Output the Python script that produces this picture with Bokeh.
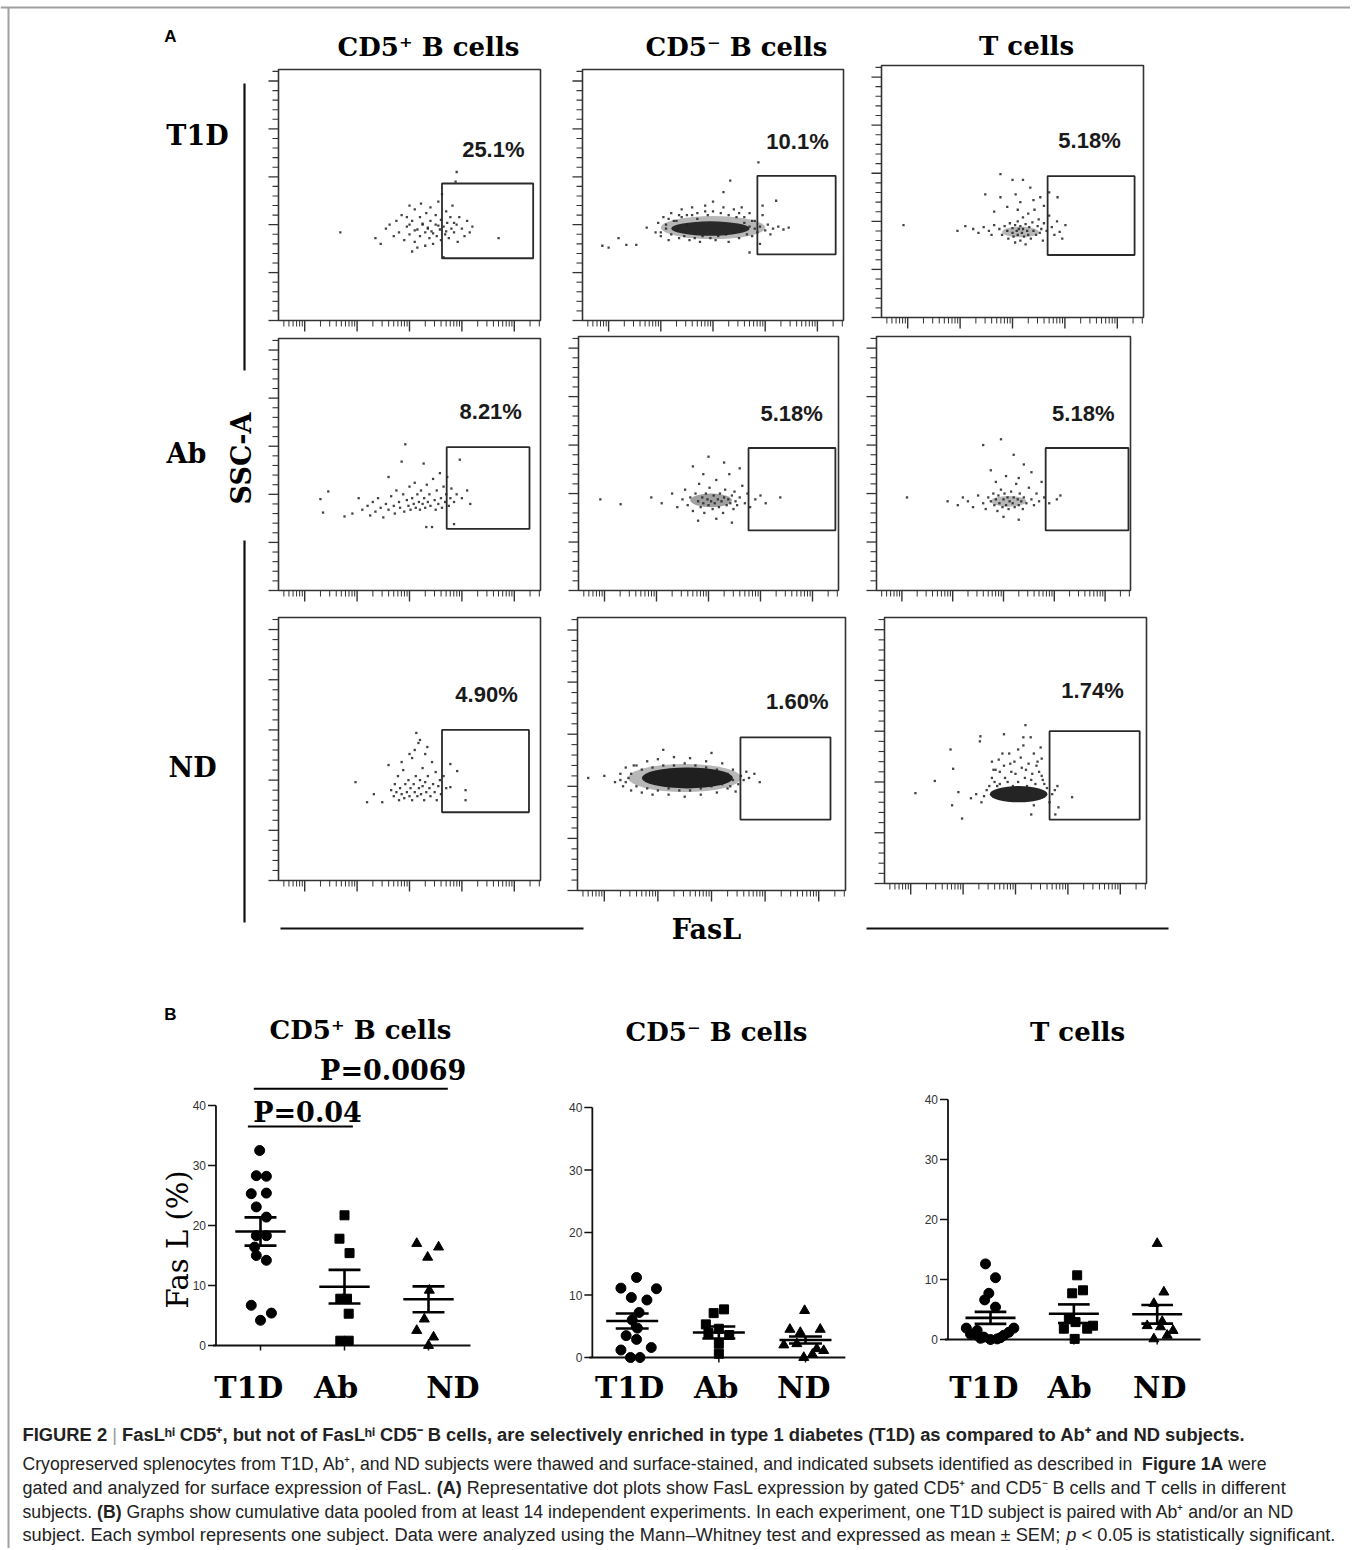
import math
from bokeh.plotting import figure
from bokeh.models import Range1d
from bokeh.embed import file_html
from bokeh.resources import INLINE
from bokeh.core.properties import value

# ======================= DATA =======================
ROW_LABELS = ["T1D", "Ab", "ND"]
COL_TITLES = ["CD5\u207a B cells", "CD5\u207b B cells", "T cells"]
GATE_PCT = [["25.1%", "10.1%", "5.18%"],
            ["8.21%", "5.18%", "5.18%"],
            ["4.90%", "1.60%", "1.74%"]]
FLOW_X = (-0.5, 4.5)          # FasL, log decades
FLOW_Y = (0.0, 262.0)         # SSC-A (x1000)
FLOW_YTICKS = [0, 50, 100, 150, 200, 250]
FLOW_XDECADES = [0, 1, 2, 3, 4]

# gates: (x_lo, x_hi, y_lo, y_hi) in data units
GATES = [[(2.62, 4.36, 65, 143), (2.85, 4.35, 69, 151), (2.67, 4.33, 65, 147)],
         [(2.71, 4.29, 64, 149), (2.77, 4.44, 62, 147), (2.83, 4.46, 62, 147)],
         [(2.62, 4.28, 68, 150), (2.54, 4.22, 68, 147), (2.65, 4.37, 63, 150)]]
GATE_LABEL_POS = [[(3.60, 179), (3.62, 187), (3.47, 184)],
                  [(3.55, 186), (3.60, 183), (3.57, 183)],
                  [(3.47, 185), (3.60, 181), (3.47, 190)]]

# dense cores of the dot clouds: (x, y, width, height, opacity)
CORES = {
    (0, 0): [],
    (0, 1): [(2.0, 97, 2.0, 24, 0.3), (1.95, 96, 1.5, 15, 0.85)],
    (0, 2): [(2.15, 89, 0.7, 11, 0.3)],
    (1, 0): [],
    (1, 1): [(2.05, 93, 0.8, 14, 0.4)],
    (1, 2): [(2.1, 92, 0.7, 11, 0.3)],
    (2, 0): [],
    (2, 1): [(1.5, 108, 2.1, 27, 0.3), (1.55, 108, 1.7, 20, 0.92)],
    (2, 2): [(2.06, 88, 1.1, 16, 0.92)],
}

# individual events (FasL decade, SSC-A x1000)
EV_T1D_CD5P = [(0.68, 92), (1.35, 86), (1.45, 80), (1.55, 96), (1.62, 100), (1.7, 88), (1.75, 104), (1.8, 92),
               (1.85, 110), (1.9, 84), (1.95, 98), (2.0, 120), (2.0, 90), (2.05, 104), (2.1, 82), (2.1, 116),
               (2.15, 95), (2.2, 108), (2.2, 88), (2.22, 122), (2.25, 100), (2.3, 92), (2.3, 78), (2.32, 112),
               (2.35, 97), (2.38, 86), (2.4, 104), (2.4, 118), (2.42, 93), (2.45, 80), (2.5, 100), (2.5, 110),
               (2.52, 88), (2.55, 124), (2.58, 95), (2.6, 105), (2.6, 84), (2.62, 132), (2.65, 98), (2.68, 90),
               (2.7, 114), (2.72, 102), (2.75, 86), (2.78, 108), (2.8, 96), (2.82, 120), (2.85, 92), (2.88, 145),
               (2.9, 100), (2.92, 82), (2.95, 108), (3.0, 96), (3.05, 88), (3.1, 104), (3.15, 92), (3.2, 98),
               (3.7, 86), (2.0, 100), (2.1, 94), (2.25, 101), (2.45, 91), (2.35, 96), (2.55, 99), (2.7, 93),
               (2.85, 102), (2.15, 76), (1.95, 108), (2.05, 72), (2.9, 155), (2.65, 66)]
EV_T1D_CD5N = [(-0.12, 78), (0.0, 76), (0.19, 86), (0.34, 79), (0.53, 79), (0.73, 97), (0.9, 92), (0.95, 102),
               (1.0, 88), (1.05, 108), (1.1, 96), (1.15, 84), (1.2, 112), (1.3, 104), (1.35, 86), (1.4, 116),
               (1.5, 110), (1.55, 84), (1.6, 118), (1.7, 106), (1.75, 82), (1.85, 120), (1.9, 110), (2.0, 124),
               (2.05, 84), (2.2, 134), (2.33, 146), (2.2, 118), (2.3, 82), (2.4, 116), (2.5, 86), (2.55, 118),
               (2.6, 108), (2.7, 112), (2.75, 88), (2.8, 104), (2.85, 92), (2.9, 98), (2.95, 110), (3.0, 94),
               (3.05, 100), (3.1, 90), (3.15, 96), (3.25, 98), (3.35, 95), (3.45, 97), (3.21, 125), (2.87, 165),
               (2.7, 71), (2.95, 120), (2.9, 80), (1.0, 92), (1.1, 100), (1.2, 90), (1.25, 104), (1.3, 94),
               (1.4, 108), (1.45, 88), (1.5, 100), (1.6, 110), (1.65, 86), (1.7, 112), (1.8, 88), (1.85, 114),
               (1.95, 86), (2.0, 114), (2.1, 88), (2.15, 112), (2.25, 90), (2.3, 110), (2.4, 92), (2.45, 108),
               (2.55, 96), (2.6, 102), (2.7, 98), (2.75, 104), (2.8, 96), (2.65, 90), (2.5, 112), (1.35, 110),
               (1.15, 106)]
EV_T1D_T = [(-0.08, 96), (0.95, 90), (1.1, 95), (1.25, 92), (1.35, 88), (1.45, 94), (1.55, 90), (1.6, 86),
            (1.65, 96), (1.75, 92), (1.8, 86), (1.85, 95), (1.9, 90), (1.92, 82), (1.95, 98), (2.0, 88),
            (2.0, 93), (2.02, 84), (2.05, 96), (2.08, 90), (2.1, 86), (2.1, 100), (2.12, 92), (2.15, 80),
            (2.15, 95), (2.18, 88), (2.2, 104), (2.2, 92), (2.22, 84), (2.25, 97), (2.28, 90), (2.3, 86),
            (2.3, 108), (2.32, 94), (2.35, 82), (2.38, 99), (2.4, 90), (2.42, 112), (2.45, 86), (2.48, 95),
            (2.5, 102), (2.52, 88), (2.55, 92), (2.58, 80), (2.6, 98), (2.65, 90), (2.7, 106), (2.75, 94),
            (2.8, 86), (2.85, 100), (2.9, 89), (3.01, 96), (2.95, 82), (2.05, 78), (2.25, 76), (1.77, 149),
            (2.0, 143), (2.2, 143), (2.34, 135), (1.48, 128), (1.77, 125), (2.06, 128), (2.15, 120),
            (2.53, 125), (2.86, 125), (1.9, 115), (2.4, 122), (1.65, 110), (2.6, 116), (2.1, 112), (2.7, 130)]
EV_AB_CD5P = [(0.30, 95), (0.35, 81), (0.45, 103), (0.76, 77), (0.91, 80), (1.03, 96), (1.1, 84), (1.2, 88),
              (1.25, 78), (1.3, 92), (1.35, 82), (1.4, 96), (1.45, 86), (1.5, 76), (1.55, 90), (1.6, 118),
              (1.6, 84), (1.65, 98), (1.7, 88), (1.72, 80), (1.75, 104), (1.8, 92), (1.82, 86), (1.85, 134),
              (1.88, 100), (1.9, 82), (1.92, 152), (1.95, 94), (1.98, 88), (2.0, 108), (2.02, 84), (2.05, 96),
              (2.08, 90), (2.1, 112), (2.12, 86), (2.15, 100), (2.18, 92), (2.2, 84), (2.22, 104), (2.25, 90),
              (2.27, 132), (2.28, 96), (2.3, 86), (2.32, 66), (2.33, 110), (2.35, 92), (2.38, 100), (2.4, 88),
              (2.43, 66), (2.45, 116), (2.48, 94), (2.5, 84), (2.52, 104), (2.55, 90), (2.58, 122), (2.6, 96),
              (2.62, 86), (2.65, 108), (2.68, 92), (2.7, 100), (2.72, 118), (2.75, 88), (2.78, 96), (2.8, 106),
              (2.85, 69), (2.85, 92), (2.9, 100), (2.96, 136), (3.0, 96), (3.1, 104), (3.16, 90)]
EV_AB_CD5N = [(-0.08, 94), (0.31, 89), (0.9, 96), (1.1, 90), (1.3, 100), (1.4, 86), (1.5, 94), (1.55, 104),
              (1.6, 88), (1.65, 96), (1.7, 82), (1.75, 100), (1.8, 92), (1.82, 110), (1.85, 86), (1.88, 96),
              (1.9, 90), (1.92, 80), (1.95, 100), (1.98, 94), (2.0, 88), (2.02, 106), (2.05, 92), (2.08, 84),
              (2.1, 98), (2.12, 90), (2.15, 114), (2.18, 94), (2.2, 86), (2.22, 100), (2.25, 92), (2.28, 80),
              (2.3, 96), (2.32, 104), (2.35, 88), (2.38, 94), (2.4, 120), (2.42, 90), (2.45, 98), (2.48, 84),
              (2.5, 102), (2.52, 92), (2.55, 88), (2.6, 96), (2.65, 108), (2.7, 90), (2.75, 100), (2.8, 86),
              (2.9, 94), (3.0, 98), (3.1, 90), (3.38, 96), (1.7, 128), (2.0, 138), (2.3, 132), (2.6, 126),
              (1.9, 120), (2.15, 74), (1.8, 72), (2.45, 70)]
EV_AB_T = [(0.1, 96), (0.9, 92), (1.1, 88), (1.2, 96), (1.3, 92), (1.4, 86), (1.5, 98), (1.6, 90), (1.65, 84),
           (1.7, 96), (1.75, 92), (1.8, 100), (1.82, 88), (1.85, 94), (1.88, 82), (1.9, 98), (1.92, 90),
           (1.95, 104), (1.98, 86), (2.0, 94), (2.02, 100), (2.05, 88), (2.08, 96), (2.1, 84), (2.12, 92),
           (2.15, 102), (2.18, 90), (2.2, 96), (2.22, 86), (2.25, 110), (2.28, 94), (2.3, 88), (2.32, 100),
           (2.35, 92), (2.38, 84), (2.4, 96), (2.45, 90), (2.5, 106), (2.55, 94), (2.6, 88), (2.65, 100),
           (2.7, 92), (2.8, 96), (2.9, 90), (3.05, 94), (3.12, 98), (1.6, 150), (1.95, 156), (2.2, 140),
           (2.4, 130), (1.75, 124), (2.05, 118), (2.55, 122), (1.85, 112), (2.3, 116), (2.75, 112), (2.0, 76),
           (2.3, 73)]
EV_ND_CD5P = [(0.97, 98), (1.19, 78), (1.32, 86), (1.48, 78), (1.6, 115), (1.65, 90), (1.7, 84), (1.72, 96),
              (1.75, 88), (1.78, 104), (1.8, 80), (1.82, 92), (1.85, 86), (1.88, 110), (1.9, 82), (1.92, 96),
              (1.95, 88), (1.98, 100), (2.0, 84), (2.02, 92), (2.05, 122), (2.05, 80), (2.08, 96), (2.1, 88),
              (2.12, 104), (2.13, 147), (2.15, 84), (2.17, 137), (2.18, 92), (2.2, 140), (2.2, 100), (2.22, 86),
              (2.25, 112), (2.25, 94), (2.28, 80), (2.3, 98), (2.32, 88), (2.34, 133), (2.35, 104), (2.38, 92),
              (2.4, 84), (2.43, 118), (2.45, 96), (2.48, 88), (2.5, 108), (2.52, 80), (2.55, 94), (2.58, 100),
              (2.6, 86), (2.65, 104), (2.7, 92), (2.78, 116), (2.78, 93), (2.91, 109), (3.07, 90), (3.07, 80),
              (2.0, 126), (2.3, 126), (1.85, 118), (2.1, 130)]
EV_ND_CD5N = [(-0.3, 108), (0.0, 110), (0.2, 104), (0.3, 112), (0.35, 100), (0.4, 118), (0.45, 108), (0.5, 96),
              (0.6, 120), (0.7, 94), (0.8, 124), (0.9, 92), (1.0, 126), (1.2, 92), (1.3, 128), (1.5, 90),
              (1.6, 127), (1.8, 92), (1.9, 124), (2.1, 94), (2.2, 122), (2.3, 98), (2.4, 116), (2.5, 102),
              (2.55, 110), (2.6, 106), (2.7, 108), (2.8, 112), (2.9, 104), (1.1, 135), (2.0, 132), (2.45, 95),
              (2.65, 114), (0.4, 104), (0.5, 112), (0.6, 100), (0.7, 116), (0.8, 98), (0.9, 118), (1.0, 96),
              (1.1, 120), (1.2, 98), (1.3, 120), (1.4, 96), (1.5, 122), (1.6, 96), (1.7, 120), (1.8, 98),
              (1.9, 118), (2.0, 100), (2.1, 116), (2.2, 102), (2.3, 112), (2.4, 106), (0.3, 106), (0.55, 120),
              (2.35, 100)]
EV_ND_T = [(0.09, 89), (0.46, 101), (0.76, 132), (0.81, 113), (0.79, 77), (0.98, 64), (0.91, 90), (1.33, 145),
           (1.32, 140), (1.78, 147), (2.19, 156), (2.15, 144), (2.29, 144), (2.48, 134), (2.5, 123), (2.8, 96),
           (3.08, 85), (2.82, 75), (2.76, 68), (2.3, 68), (2.35, 77), (1.6, 100), (1.7, 110), (1.8, 104),
           (1.9, 118), (2.0, 108), (2.1, 124), (2.2, 112), (2.3, 102), (2.4, 116), (2.5, 106), (1.55, 120),
           (1.75, 128), (2.05, 132), (2.35, 128), (1.65, 96), (2.55, 98), (1.45, 92), (1.4, 86), (1.35, 80),
           (1.25, 88), (1.15, 84), (2.7, 88), (2.65, 80), (2.75, 92), (1.55, 104), (1.62, 112), (1.7, 98),
           (1.78, 116), (1.85, 100), (1.92, 110), (1.98, 120), (2.05, 100), (2.12, 114), (2.18, 104),
           (2.25, 118), (2.32, 108), (2.38, 98), (2.45, 110), (2.52, 102), (1.68, 122), (1.88, 128),
           (2.15, 136), (2.42, 120), (1.58, 112), (2.6, 94), (1.5, 96), (1.95, 96), (2.22, 96)]
EVENTS = [[EV_T1D_CD5P, EV_T1D_CD5N, EV_T1D_T],
          [EV_AB_CD5P, EV_AB_CD5N, EV_AB_T],
          [EV_ND_CD5P, EV_ND_CD5N, EV_ND_T]]

# ---- panel B : FasL (%) per subject ----
B_TITLES = ["CD5\u207a B cells", "CD5\u207b B cells", "T cells"]
CATEGORIES = ["T1D", "Ab", "ND"]
B_YTICKS = [0, 10, 20, 30, 40]
CD5P_T1D = [32.5, 28.3, 28.2, 25.3, 25.4, 23.1, 21.4, 18.3, 18.3, 16.4, 15.0, 14.2, 6.7, 5.4, 4.2]
CD5P_T1D_JIT = [-0.01, -0.05, 0.07, -0.11, 0.07, -0.05, 0.07, -0.05, 0.07, -0.07, -0.05, 0.07, -0.11, 0.13, 0.0]
CD5P_AB = [21.7, 17.8, 15.4, 7.8, 7.8, 5.3, 0.8, 0.8]
CD5P_AB_JIT = [0.0, -0.06, 0.06, -0.05, 0.03, 0.05, -0.05, 0.05]
CD5P_ND = [17.0, 16.4, 14.7, 9.2, 4.4, 2.5, 1.4, 0.0]
CD5P_ND_JIT = [-0.14, 0.12, -0.01, 0.01, -0.05, -0.14, 0.06, 0.0]
CD5P_MEAN = [19.0, 9.8, 7.7]
CD5P_SEM = [2.35, 2.8, 2.15]
CD5N_T1D = [12.8, 11.1, 11.0, 9.6, 9.2, 7.2, 6.0, 4.7, 3.5, 2.9, 1.6, 1.2, 0.0, 0.0]
CD5N_T1D_JIT = [0.05, -0.13, 0.28, -0.01, 0.17, 0.08, 0.0, 0.06, -0.07, 0.05, 0.22, -0.13, -0.02, 0.09]
CD5N_AB = [7.7, 7.1, 5.3, 4.6, 3.9, 3.6, 2.2, 0.6]
CD5N_AB_JIT = [0.06, -0.06, -0.15, 0.0, -0.12, 0.12, 0.0, 0.0]
CD5N_ND = [7.5, 4.5, 4.5, 4.0, 2.0, 2.2, 1.4, 1.1, 0.5, 0.0]
CD5N_ND_JIT = [-0.01, -0.18, 0.17, -0.06, -0.25, -0.1, 0.13, 0.21, 0.08, -0.02]
CD5N_MEAN = [5.85, 4.0, 2.8]
CD5N_SEM = [1.2, 0.95, 0.55]
TC_T1D = [12.6, 10.3, 7.7, 6.6, 5.4, 1.9, 1.9, 0.9, 0.7, 0.4, 0.0, 0.1, 0.7, 1.2, 1.5, 0.2, 0.3]
TC_T1D_JIT = [-0.06, 0.06, -0.02, -0.07, 0.06, -0.29, 0.28, -0.24, -0.16, -0.08, 0.0, 0.08, 0.16, 0.22, -0.16, -0.12, 0.12]
TC_AB = [10.7, 7.7, 8.2, 2.9, 1.8, 1.8, 2.3, 0.1, 3.5]
TC_AB_JIT = [0.04, -0.02, 0.11, 0.02, -0.12, 0.16, 0.23, 0.01, -0.06]
TC_ND = [16.0, 7.9, 6.0, 2.3, 2.1, 1.5, 0.1, 0.7, 3.0]
TC_ND_JIT = [0.0, 0.08, -0.04, -0.12, 0.04, 0.19, -0.04, 0.12, 0.06]
TC_MEAN = [3.6, 4.3, 4.2]
TC_SEM = [1.0, 1.55, 1.55]

B_GROUPS = [[(CD5P_T1D, CD5P_T1D_JIT), (CD5P_AB, CD5P_AB_JIT), (CD5P_ND, CD5P_ND_JIT)],
            [(CD5N_T1D, CD5N_T1D_JIT), (CD5N_AB, CD5N_AB_JIT), (CD5N_ND, CD5N_ND_JIT)],
            [(TC_T1D, TC_T1D_JIT), (TC_AB, TC_AB_JIT), (TC_ND, TC_ND_JIT)]]
B_MEANS = [CD5P_MEAN, CD5N_MEAN, TC_MEAN]
B_SEMS = [CD5P_SEM, CD5N_SEM, TC_SEM]
PVALUES = ["P=0.0069", "P=0.04"]

CAPTION = [
    [("FIGURE 2", "bold", "#222"), ("|", "normal", "#999"),
     ("FasL\u02b0\u2071 CD5\u207a, but not of FasL\u02b0\u2071 CD5\u207b B cells, are selectively enriched in type 1 diabetes (T1D) as compared to Ab\u207a and ND subjects.", "bold", "#222")],
    [("Cryopreserved splenocytes from T1D, Ab\u207a, and ND subjects were thawed and surface-stained, and indicated subsets identified as described in", "normal", "#222"),
     ("Figure 1A", "bold", "#222"), ("were", "normal", "#222")],
    [("gated and analyzed for surface expression of FasL.", "normal", "#222"), ("(A)", "bold", "#222"),
     ("Representative dot plots show FasL expression by gated CD5\u207a and CD5\u207b B cells and T cells in different", "normal", "#222")],
    [("subjects.", "normal", "#222"), ("(B)", "bold", "#222"),
     ("Graphs show cumulative data pooled from at least 14 independent experiments. In each experiment, one T1D subject is paired with Ab\u207a and/or an ND", "normal", "#222")],
    [("subject. Each symbol represents one subject. Data were analyzed using the Mann\u2013Whitney test and expressed as mean \u00b1 SEM;", "normal", "#222"),
     ("p", "italic", "#222"), ("< 0.05 is statistically significant.", "normal", "#222")],
]

# ======================= LAYOUT =======================
W, H = 1350, 1548
SERIF = "DejaVu Serif"
SANS = "Liberation Sans"

FLOW_BOX = [[(278, 69, 540, 320), (582, 69, 843, 320), (881, 65, 1143, 317)],
            [(278, 338, 540, 590), (578, 336, 838, 590), (876, 336, 1130, 590)],
            [(278, 617, 540, 880), (577, 617, 845, 890), (884, 617, 1146, 883)]]
B_BOX = [(260, 1105, 428, 1345), (631.7, 1107, 805, 1357), (990, 1099, 1156.7, 1339)]
B_AXIS_X = [0.47, 0.54, 0.49]
B_AXIS_END = [3.5, 3.46, 3.52]
B_LABEL_X = [[0.86, 1.9, 3.29], [0.97, 1.97, 2.98], [0.92, 1.95, 3.03]]
B_LABEL_Y = [-7.0, -4.8, -8.0]
B_TITLE_POS = [(360, 1029), (716, 1031), (1077, 1031)]
COL_TITLE_POS = [(428, 46), (736, 46), (1026, 45)]
ROW_LABEL_POS = [(197, 135), (186, 453), (192, 767)]
CAP_X0 = 22
CAP_END = [1263, 1266, 1293, 1297, 1335]
CAP_Y = [1434, 1463, 1487, 1511, 1534]

# Arial/Liberation Sans advance widths (1/1000 em)
_REG = {' ': 278, ',': 278, '.': 278, '-': 333, '(': 333, ')': 333, ';': 278, '<': 584, '/': 278, '|': 260,
        '\u2013': 556, '\u00b1': 584, 'A': 667, 'B': 667, 'C': 722, 'D': 722, 'E': 667, 'F': 611, 'G': 778,
        'H': 722, 'I': 278, 'L': 556, 'M': 833, 'N': 722, 'R': 722, 'S': 667, 'T': 611, 'W': 944,
        'a': 556, 'b': 556, 'c': 500, 'd': 556, 'e': 556, 'f': 278, 'g': 556, 'h': 556, 'i': 222, 'j': 222,
        'k': 500, 'l': 222, 'm': 833, 'n': 556, 'o': 556, 'p': 556, 'q': 556, 'r': 333, 's': 500, 't': 278,
        'u': 556, 'v': 500, 'w': 722, 'x': 500, 'y': 500, 'z': 500,
        '\u207a': 500, '\u207b': 500, '\u02b0': 400, '\u2071': 220}
_BOLD = {' ': 278, ',': 278, '.': 278, '-': 333, '(': 333, ')': 333, 'A': 722, 'B': 722, 'C': 722, 'D': 722,
         'E': 667, 'F': 611, 'G': 778, 'I': 278, 'L': 611, 'N': 722, 'R': 722, 'S': 667, 'T': 611, 'U': 722,
         'a': 556, 'b': 611, 'c': 556, 'd': 611, 'e': 556, 'f': 333, 'g': 611, 'h': 611, 'i': 278, 'l': 278,
         'm': 889, 'n': 611, 'o': 611, 'p': 611, 'r': 389, 's': 556, 't': 333, 'u': 611, 'v': 556, 'y': 556,
         '\u207a': 500, '\u207b': 500, '\u02b0': 400, '\u2071': 220}


def em_width(s, style):
    tab = _BOLD if style == "bold" else _REG
    return sum(tab.get(ch, 556) for ch in s) / 1000.0


p = figure(width=W, height=H, x_range=Range1d(0, W), y_range=Range1d(H, 0),
           output_backend="svg", toolbar_location=None, min_border=0,
           x_axis_location=None, y_axis_location=None)
p.grid.grid_line_color = None
p.outline_line_color = None
p.background_fill_color = "white"
p.border_fill_color = "white"

xr, yr, scales = {}, {}, {}


def make_ranges(name, L, T, R, B, xd, yd):
    sx = (xd[1] - xd[0]) / (R - L)
    xs = xd[0] - L * sx
    xr[name] = Range1d(xs, xs + W * sx)
    sy = (yd[1] - yd[0]) / (B - T)
    ys = yd[0] - (H - B) * sy
    yr[name] = Range1d(ys, ys + H * sy)
    scales[name] = (sx, sy)


for r in range(3):
    for c in range(3):
        L, T, R, B = FLOW_BOX[r][c]
        make_ranges(f"f{r}{c}", L, T, R, B, FLOW_X, FLOW_Y)
for i in range(3):
    L, T, R, B = B_BOX[i]
    make_ranges(f"b{i}", L, T, R, B, (1, 3), (0, 40))

p.extra_x_ranges = xr
p.extra_y_ranges = yr


def txt(x, y, s, size, font=SERIF, style="bold", align="center", baseline="alphabetic",
        color="black", angle=0.0, rn=None):
    kw = dict(x_range_name=rn, y_range_name=rn) if rn else {}
    p.text(x=[x], y=[y], text=[s], text_font=value(font), text_font_size=f"{size:.2f}px",
           text_font_style=style, text_align=align, text_baseline=baseline,
           text_color=color, angle=angle, **kw)


# ---------------- Panel A ----------------
INK = "#333333"
for r in range(3):
    for c in range(3):
        n = f"f{r}{c}"
        kw = dict(x_range_name=n, y_range_name=n)
        sx, sy = scales[n]
        p.quad(left=[FLOW_X[0]], right=[FLOW_X[1]], bottom=[FLOW_Y[0]], top=[FLOW_Y[1]],
               fill_color=None, line_color=INK, line_width=1.6, **kw)
        minor_y = [v for v in range(0, 262, 10) if v % 50 != 0]
        p.segment(x0=[FLOW_X[0]] * len(FLOW_YTICKS), x1=[FLOW_X[0] - 10 * sx] * len(FLOW_YTICKS),
                  y0=FLOW_YTICKS, y1=FLOW_YTICKS, line_color=INK, line_width=1.3, **kw)
        p.segment(x0=[FLOW_X[0]] * len(minor_y), x1=[FLOW_X[0] - 6 * sx] * len(minor_y),
                  y0=minor_y, y1=minor_y, line_color=INK, line_width=1.1, **kw)
        p.segment(x0=FLOW_XDECADES, x1=FLOW_XDECADES, y0=[FLOW_Y[0]] * 5,
                  y1=[FLOW_Y[0] - 11 * sy] * 5, line_color=INK, line_width=1.4, **kw)
        minor_x = [d + math.log10(k) for d in range(-1, 5) for k in range(2, 10)
                   if FLOW_X[0] < d + math.log10(k) < FLOW_X[1]]
        p.segment(x0=minor_x, x1=minor_x, y0=[FLOW_Y[0]] * len(minor_x),
                  y1=[FLOW_Y[0] - 6 * sy] * len(minor_x), line_color=INK, line_width=1.0, **kw)
        for (cx, cy, w, h, a) in CORES[(r, c)]:
            p.ellipse(x=[cx], y=[cy], width=[w], height=[h], fill_color="#111111",
                      fill_alpha=a, line_color=None, **kw)
        ev = EVENTS[r][c]
        p.scatter(x=[e[0] for e in ev], y=[e[1] for e in ev], marker="square", size=2.3,
                  fill_color="#222222", line_color=None, fill_alpha=0.85, **kw)
        gx0, gx1, gy0, gy1 = GATES[r][c]
        p.quad(left=[gx0], right=[gx1], bottom=[gy0], top=[gy1], fill_color=None,
               line_color="#2a2a2a", line_width=1.8, **kw)
        lx, ly = GATE_LABEL_POS[r][c]
        txt(lx, ly, GATE_PCT[r][c], 22, font=SANS, style="bold", baseline="middle",
            color="#1a1a1a", rn=n)

txt(170, 36, "A", 17, font=SANS, style="bold", baseline="middle")
for c in range(3):
    txt(COL_TITLE_POS[c][0], COL_TITLE_POS[c][1], COL_TITLES[c], 26)
for r in range(3):
    txt(ROW_LABEL_POS[r][0], ROW_LABEL_POS[r][1], ROW_LABELS[r], 27)
txt(241, 458, "SSC-A", 27, baseline="middle", angle=math.pi / 2)
txt(706, 929, "FasL", 27, baseline="middle")
p.segment(x0=[244, 244], x1=[244, 244], y0=[83, 540], y1=[370, 922], line_color="#111", line_width=2.2)
p.segment(x0=[280, 866], x1=[583, 1168], y0=[928, 928], y1=[928, 928], line_color="#111", line_width=2.2)

# ---------------- Panel B ----------------
MARKERS = ["circle", "square", "triangle"]
MSIZE = [10, 9, 10]
for i in range(3):
    n = f"b{i}"
    kw = dict(x_range_name=n, y_range_name=n)
    sx, sy = scales[n]
    ax = B_AXIS_X[i]
    p.segment(x0=[ax], x1=[ax], y0=[0], y1=[40], line_color="#111", line_width=1.8, **kw)
    p.segment(x0=[ax - 3 * sx], x1=[B_AXIS_END[i]], y0=[0], y1=[0], line_color="#111",
              line_width=2.2, **kw)
    p.segment(x0=[ax] * 5, x1=[ax - 8 * sx] * 5, y0=B_YTICKS, y1=B_YTICKS, line_color="#111",
              line_width=1.5, **kw)
    p.text(x=[ax - 10 * sx] * 5, y=B_YTICKS, text=[str(v) for v in B_YTICKS],
           text_font=value(SANS), text_font_size="12px", text_align="right",
           text_baseline="middle", text_color="#333", **kw)
    p.segment(x0=[1, 2, 3], x1=[1, 2, 3], y0=[0, 0, 0], y1=[-5 * sy] * 3, line_color="#111",
              line_width=1.5, **kw)
    for g in range(3):
        vals, jit = B_GROUPS[i][g]
        p.scatter(x=[g + 1 + j for j in jit], y=vals, marker=MARKERS[g], size=MSIZE[g],
                  fill_color="black", line_color="black", **kw)
        m, s = B_MEANS[i][g], B_SEMS[i][g]
        p.segment(x0=[g + 1 - 0.3, g + 1 - 0.19, g + 1 - 0.19, g + 1],
                  x1=[g + 1 + 0.3, g + 1 + 0.19, g + 1 + 0.19, g + 1],
                  y0=[m, m + s, m - s, m - s], y1=[m, m + s, m - s, m + s],
                  line_color="black", line_width=2.6, **kw)
        txt(B_LABEL_X[i][g], B_LABEL_Y[i], CATEGORIES[g], 30, rn=n)
    txt(B_TITLE_POS[i][0], B_TITLE_POS[i][1], B_TITLES[i], 26)

kw0 = dict(x_range_name="b0", y_range_name="b0")
p.segment(x0=[0.92, 0.85], x1=[3.23, 2.1], y0=[42.8, 36.5], y1=[42.8, 36.5],
          line_color="black", line_width=2.0, **kw0)
txt(2.58, 45.8, PVALUES[0], 27, rn="b0")
txt(1.56, 38.9, PVALUES[1], 27, rn="b0")
txt(177, 1239, "Fas L (%)", 29, style="normal", baseline="middle", angle=math.pi / 2)
txt(170, 1014, "B", 17, font=SANS, style="bold", baseline="middle")

# ---------------- caption & frame ----------------
p.segment(x0=[0], x1=[W], y0=[7], y1=[7], line_color="#a0a0a0", line_width=2)
p.segment(x0=[8], x1=[8], y0=[7], y1=[H], line_color="#a0a0a0", line_width=2)
SP = 0.278
for li, line in enumerate(CAPTION):
    total = sum(em_width(s, st) for s, st, _ in line) + SP * (len(line) - 1)
    size = (CAP_END[li] - CAP_X0) / total
    x = CAP_X0
    for si, (s, style, col) in enumerate(line):
        txt(x, CAP_Y[li], s, size, font=SANS, style=style, align="left",
            baseline="middle", color=col)
        x += (em_width(s, style) + SP) * size

open("out.html", "w").write(file_html(p, INLINE))
